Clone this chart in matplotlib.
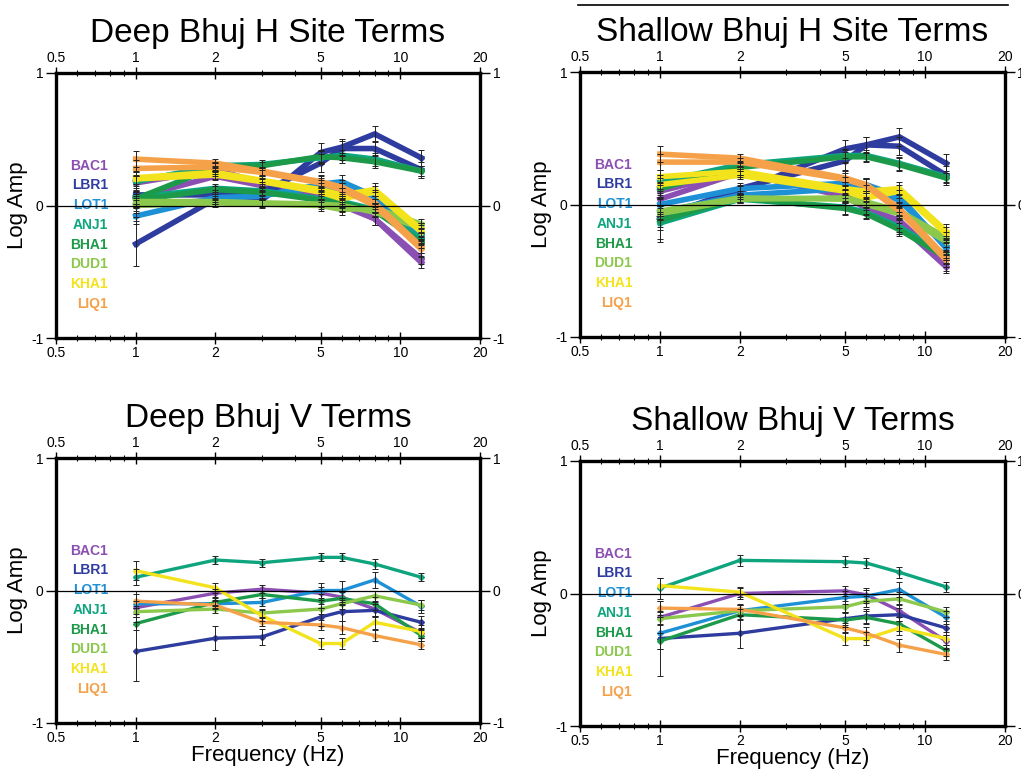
import matplotlib
matplotlib.use("Agg")
import matplotlib.pyplot as plt
from matplotlib.ticker import FixedLocator, FixedFormatter, LogLocator, NullFormatter

plt.rcParams['font.family'] = ['Liberation Sans', 'DejaVu Sans']

# stations and their colours
stations = ["BAC1", "LBR1", "LOT1", "ANJ1", "BHA1", "DUD1", "KHA1", "LIQ1"]
colors = ["#8b4fb3", "#2f3c9f", "#1e90d6", "#0ea57e", "#1c9a4a", "#8cc84b", "#f3e31c", "#f5a14a"]

freq_deep = [1, 2, 3, 5, 6, 8, 12]
freq_shallow = [1, 2, 5, 6, 8, 12]

# Deep H site terms, two estimates per station
deep_h_a = [
    [0.17, 0.27, 0.17, 0.09, 0.01, -0.10, -0.43],
    [-0.29, 0.05, 0.04, 0.40, 0.44, 0.54, 0.36],
    [-0.08, 0.06, 0.07, 0.16, 0.18, 0.07, -0.25],
    [0.18, 0.30, 0.31, 0.36, 0.38, 0.35, 0.26],
    [0.05, 0.29, 0.30, 0.37, 0.36, 0.33, 0.26],
    [0.00, 0.02, 0.01, 0.00, -0.03, -0.02, -0.14],
    [0.21, 0.25, 0.19, 0.12, 0.08, 0.12, -0.18],
    [0.35, 0.32, 0.26, 0.18, 0.14, 0.02, -0.31],
]
deep_h_b = [
    [0.06, 0.22, 0.15, 0.08, 0.00, -0.10, -0.40],
    [0.08, 0.08, 0.10, 0.32, 0.43, 0.43, 0.27],
    [0.00, 0.04, 0.08, 0.14, 0.12, 0.05, -0.22],
    [0.06, 0.13, 0.11, 0.05, 0.03, -0.03, -0.25],
    [0.04, 0.12, 0.10, 0.04, 0.02, -0.04, -0.28],
    [0.03, 0.03, 0.02, 0.01, 0.00, -0.05, -0.17],
    [0.20, 0.23, 0.18, 0.10, 0.05, 0.10, -0.20],
    [0.28, 0.29, 0.25, 0.17, 0.12, 0.00, -0.33],
]
deep_h_err = [
    [0.05, 0.03, 0.03, 0.05, 0.05, 0.05, 0.04],
    [0.17, 0.04, 0.04, 0.07, 0.06, 0.06, 0.06],
    [0.06, 0.03, 0.03, 0.05, 0.05, 0.05, 0.05],
    [0.05, 0.03, 0.03, 0.05, 0.04, 0.05, 0.04],
    [0.05, 0.03, 0.03, 0.05, 0.04, 0.05, 0.04],
    [0.04, 0.03, 0.03, 0.04, 0.04, 0.04, 0.04],
    [0.05, 0.03, 0.03, 0.05, 0.05, 0.05, 0.05],
    [0.06, 0.03, 0.03, 0.05, 0.05, 0.05, 0.05],
]

# Shallow H site terms
shallow_h_a = [
    [0.10, 0.25, 0.07, -0.02, -0.15, -0.47],
    [-0.12, 0.10, 0.42, 0.45, 0.51, 0.31],
    [0.00, 0.12, 0.16, 0.14, 0.03, -0.31],
    [0.17, 0.30, 0.37, 0.37, 0.31, 0.21],
    [0.12, 0.28, 0.36, 0.36, 0.30, 0.20],
    [-0.07, 0.04, 0.05, 0.02, -0.05, -0.25],
    [0.21, 0.25, 0.12, 0.10, 0.12, -0.20],
    [0.38, 0.35, 0.20, 0.15, -0.03, -0.40],
]
shallow_h_b = [
    [0.04, 0.24, 0.06, -0.03, -0.12, -0.45],
    [-0.10, 0.12, 0.33, 0.45, 0.44, 0.22],
    [-0.06, 0.07, 0.12, 0.15, 0.06, -0.33],
    [-0.14, 0.04, -0.02, -0.06, -0.17, -0.38],
    [-0.12, 0.05, -0.03, -0.07, -0.19, -0.40],
    [-0.05, 0.05, 0.04, 0.00, -0.07, -0.28],
    [0.15, 0.22, 0.10, 0.05, 0.10, -0.22],
    [0.32, 0.32, 0.19, 0.14, -0.05, -0.42],
]
shallow_h_err = [
    [0.05, 0.03, 0.05, 0.05, 0.06, 0.05],
    [0.16, 0.04, 0.07, 0.06, 0.07, 0.07],
    [0.06, 0.03, 0.05, 0.05, 0.05, 0.05],
    [0.05, 0.03, 0.05, 0.04, 0.05, 0.04],
    [0.05, 0.03, 0.05, 0.04, 0.05, 0.04],
    [0.04, 0.03, 0.04, 0.04, 0.04, 0.04],
    [0.05, 0.03, 0.05, 0.05, 0.05, 0.05],
    [0.06, 0.03, 0.05, 0.05, 0.05, 0.05],
]

# Deep V terms
deep_v = [
    [-0.13, -0.02, 0.01, -0.02, -0.05, -0.14, -0.32],
    [-0.46, -0.36, -0.35, -0.20, -0.16, -0.15, -0.24],
    [-0.10, -0.10, -0.09, 0.00, 0.00, 0.08, -0.12],
    [0.10, 0.23, 0.21, 0.25, 0.25, 0.20, 0.10],
    [-0.25, -0.09, -0.03, -0.08, -0.06, -0.10, -0.34],
    [-0.16, -0.14, -0.17, -0.14, -0.10, -0.04, -0.11],
    [0.15, 0.02, -0.19, -0.40, -0.40, -0.24, -0.31],
    [-0.08, -0.11, -0.24, -0.26, -0.28, -0.34, -0.41],
]
deep_v_err = [
    [0.05, 0.03, 0.03, 0.05, 0.05, 0.05, 0.04],
    [0.22, 0.09, 0.06, 0.07, 0.07, 0.05, 0.05],
    [0.10, 0.03, 0.03, 0.06, 0.07, 0.06, 0.05],
    [0.06, 0.03, 0.03, 0.03, 0.03, 0.04, 0.03],
    [0.05, 0.03, 0.03, 0.05, 0.05, 0.05, 0.04],
    [0.04, 0.03, 0.03, 0.04, 0.04, 0.04, 0.04],
    [0.07, 0.04, 0.04, 0.04, 0.04, 0.05, 0.05],
    [0.05, 0.03, 0.03, 0.04, 0.05, 0.04, 0.03],
]

# Shallow V terms
shallow_v = [
    [-0.18, 0.00, 0.02, -0.01, -0.13, -0.36],
    [-0.34, -0.30, -0.19, -0.17, -0.16, -0.26],
    [-0.30, -0.13, -0.03, -0.02, 0.03, -0.18],
    [0.04, 0.25, 0.24, 0.23, 0.16, 0.05],
    [-0.36, -0.16, -0.20, -0.18, -0.23, -0.43],
    [-0.19, -0.13, -0.10, -0.06, -0.04, -0.14],
    [0.06, 0.01, -0.34, -0.34, -0.26, -0.34],
    [-0.11, -0.12, -0.26, -0.30, -0.39, -0.46],
]
shallow_v_err = [
    [0.05, 0.04, 0.04, 0.05, 0.05, 0.05],
    [0.28, 0.11, 0.05, 0.05, 0.05, 0.05],
    [0.12, 0.04, 0.05, 0.05, 0.06, 0.05],
    [0.08, 0.04, 0.04, 0.04, 0.04, 0.04],
    [0.06, 0.04, 0.05, 0.05, 0.05, 0.04],
    [0.05, 0.04, 0.04, 0.04, 0.05, 0.04],
    [0.06, 0.04, 0.05, 0.05, 0.05, 0.05],
    [0.05, 0.04, 0.04, 0.05, 0.05, 0.04],
]

x_ticks = [0.5, 1, 2, 5, 10, 20]
x_labels = ["0.5", "1", "2", "5", "10", "20"]
y_ticks = [-1, 0, 1]
y_labels = ["-1", "0", "1"]

W, H = 1021, 775
fig = plt.figure(figsize=(W / 100, H / 100), dpi=100)


def px_axes(x0, y0, x1, y1):
    return fig.add_axes([x0 / W, 1 - y1 / H, (x1 - x0) / W, (y1 - y0) / H])


def draw_panel(ax, title, freqs, sets, errs, lw, xlabel=False):
    for data in sets:
        for i, vals in enumerate(data):
            ax.errorbar(freqs, vals, yerr=errs[i], fmt='none', ecolor='#222222',
                        elinewidth=0.7, capsize=2.5, capthick=0.7, zorder=4 + i * 0.1)
            ax.plot(freqs, vals, color=colors[i], lw=lw, marker='D', ms=3,
                    solid_joinstyle='round', zorder=3 + i * 0.1)
    ax.axhline(0, color='black', lw=0.9, zorder=6)
    ax.set_xscale('log')
    ax.set_xlim(0.5, 20)
    ax.set_ylim(-1, 1)
    ax.xaxis.set_major_locator(FixedLocator(x_ticks))
    ax.xaxis.set_major_formatter(FixedFormatter(x_labels))
    ax.xaxis.set_minor_locator(LogLocator(base=10, subs=range(2, 10)))
    ax.xaxis.set_minor_formatter(NullFormatter())
    ax.yaxis.set_major_locator(FixedLocator(y_ticks))
    ax.yaxis.set_major_formatter(FixedFormatter(y_labels))
    ax.tick_params(axis='x', which='major', direction='inout', length=8, width=1,
                   top=True, labeltop=True, labelsize=10, pad=2)
    ax.tick_params(axis='x', which='minor', direction='inout', length=4, width=0.8, top=True)
    ax.tick_params(axis='y', which='major', direction='out', length=7, width=1,
                   right=True, labelright=True, labelsize=10, pad=2)
    for sp in ax.spines.values():
        sp.set_linewidth(2.4)
    ax.set_ylabel("Log Amp", fontsize=16, labelpad=2)
    if xlabel:
        ax.set_xlabel("Frequency (Hz)", fontsize=16, labelpad=0)
    ax.set_title(title, fontsize=24, pad=22)
    for i, name in enumerate(stations):
        ax.text(0.123, 0.65 - i * 0.0745, name, transform=ax.transAxes, ha='right',
                va='center', color=colors[i], fontsize=10, fontweight='bold', zorder=5)


ax1 = px_axes(56, 73, 480, 338)
draw_panel(ax1, "Deep Bhuj H Site Terms", freq_deep, [deep_h_b, deep_h_a], deep_h_err, 4)

ax2 = px_axes(580, 72, 1005, 337)
draw_panel(ax2, "Shallow Bhuj H Site Terms", freq_shallow, [shallow_h_b, shallow_h_a], shallow_h_err, 4)

ax3 = px_axes(56, 458, 480, 723)
draw_panel(ax3, "Deep Bhuj V Terms", freq_deep, [deep_v], deep_v_err, 2.4, xlabel=True)

ax4 = px_axes(580, 461, 1005, 726)
draw_panel(ax4, "Shallow Bhuj V Terms", freq_shallow, [shallow_v], shallow_v_err, 2.4, xlabel=True)

# rule above the top-right title
fig.add_artist(plt.Line2D([578 / W, 1008 / W], [1 - 5 / H, 1 - 5 / H], color='black', lw=1.2))

fig.savefig("out.png", dpi=100)
